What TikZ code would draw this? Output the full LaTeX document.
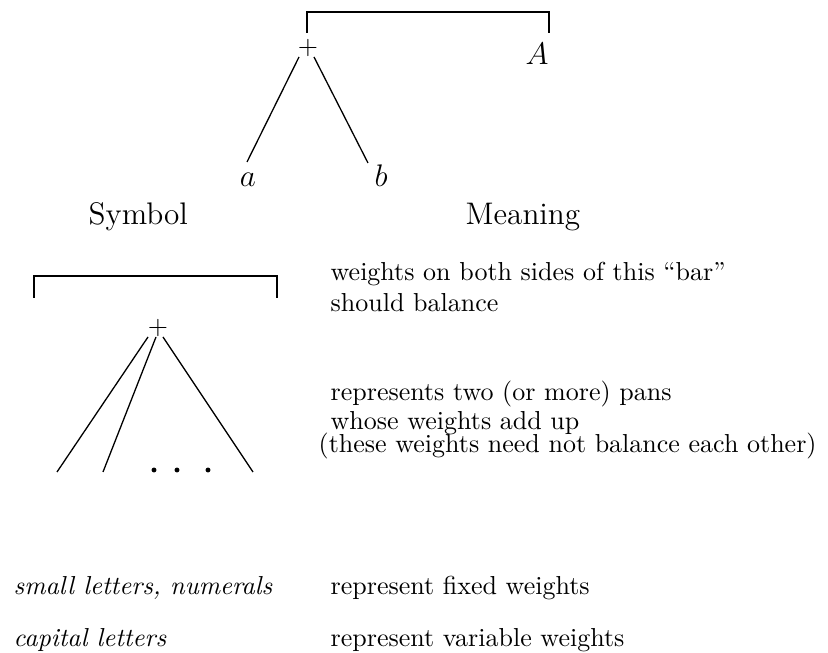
\documentclass[tikz,border=0pt]{standalone}
\begin{document}
\begin{tikzpicture}[x=0.3846pt,y=-0.3846pt,line width=0.5pt,
  lbl/.style={inner sep=0pt,anchor=base west},
  mlbl/.style={inner sep=0pt,anchor=base},
  dotnode/.style={circle,fill=black,inner sep=0pt,minimum size=1.9pt}]
\useasboundingbox (0,0) rectangle (828,653);
% top example
\node[inner sep=0pt] (plusA) at (308,48) {$+$};
\node[mlbl] (va) at (248,187) {\large $a$};
\node[mlbl] (vb) at (381,187) {\large $b$};
\node[mlbl] (vA) at (537,65) {\large $A$};
\coordinate (brAl) at (307,33);
\coordinate (brAr) at (549,33);
\coordinate (brAt) at (428,12);
\draw (brAl) |- (brAt) -| (brAr);
\coordinate (sa1) at (299,57);
\coordinate (sa2) at (247,162);
\coordinate (sb1) at (314,57);
\coordinate (sb2) at (368,163);
\draw (sa1) -- (sa2);
\draw (sb1) -- (sb2);
% headers
\node[lbl] (hsym) at (88,225) {\large Symbol};
\node[lbl] (hmean) at (465,225) {\large Meaning};
% bar symbol
\coordinate (brBl) at (34,298);
\coordinate (brBr) at (277,298);
\coordinate (brBt) at (155,276);
\draw (brBl) |- (brBt) -| (brBr);
\node[lbl] (m1) at (330,281) {weights on both sides of this “bar”};
\node[lbl] (m2) at (330,312) {should balance};
% plus symbol
\node[inner sep=0pt] (plusB) at (158,328) {$+$};
\coordinate (p1s) at (148,337);
\coordinate (p2s) at (156,337);
\coordinate (p3s) at (163,337);
\coordinate (p1e) at (57,472);
\coordinate (p2e) at (103,472);
\coordinate (p3e) at (253,472);
\draw (p1s) -- (p1e);
\draw (p2s) -- (p2e);
\draw (p3s) -- (p3e);
\node[dotnode] (d1) at (154,470) {};
\node[dotnode] (d2) at (177,470) {};
\node[dotnode] (d3) at (208,470) {};
\node[lbl] (m3) at (330,401) {represents two (or more) pans};
\node[lbl] (m4) at (330,430) {whose weights add up};
\node[lbl] (m5) at (318,453) {(these weights need not balance each other)};
% letters
\node[lbl] (s1) at (13,595) {\itshape small letters, numerals};
\node[lbl] (m6) at (330,595) {represent fixed weights};
\node[lbl] (s2) at (13,647) {\itshape capital letters};
\node[lbl] (m7) at (330,647) {represent variable weights};
\end{tikzpicture}
\end{document}
